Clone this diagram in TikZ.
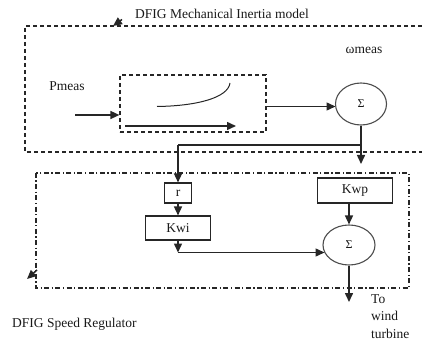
\documentclass[tikz,border=0pt]{standalone}
\usepackage{fontspec}
\setmainfont{Liberation Serif}
\usetikzlibrary{arrows.meta,shapes.geometric}
\begin{document}
\begin{tikzpicture}[x=1pt,y=-1pt,
  every node/.style={font=\fontsize{13.5}{17.5}\selectfont,text=black!90},
  wire/.style={line width=1.5pt,black!85},
  arr/.style={wire,-{Triangle[length=9pt,width=8pt]}},
  blk/.style={draw=black!85,line width=1.1pt,rectangle,inner sep=0pt},
  sumnode/.style={draw=black!70,line width=1.1pt,ellipse,inner sep=0pt,
    font=\fontsize{12}{14}\selectfont},
  dashbox/.style={draw=black!85,line width=1.2pt,dash pattern=on 4pt off 3pt},
  ddbox/.style={draw=black!85,line width=1.1pt,
    dash pattern=on 5pt off 2.5pt on 1.2pt off 2.5pt}]
\useasboundingbox (0,0) rectangle (422,344);

% mechanical inertia model (open on the right)
\draw[dashbox] (422,26) -- (25,26) -- (25,152) -- (422,152);
\node (title1) at (222,14) {DFIG Mechanical Inertia model};
\coordinate (m1tail) at (122,19.5);
\coordinate (m1tip) at (113,26);
\draw[arr] (m1tail) -- (m1tip);

\node (omega) at (364,50) {ωmeas};
\node (pmeas) at (67,86) {Pmeas};

% transfer-function block
\node[dashbox,minimum width=146pt,minimum height=57pt] (tf) at (193,103.5) {};
\coordinate (c1) at (157,106.5);
\coordinate (c2) at (230,83);
\draw[line width=1pt,black!85] (c1) .. controls (196,106) and (228,98) .. (c2);
\coordinate (a1) at (125,126);
\coordinate (a2) at (236,126);
\draw[arr] (a1) -- (a2);

\coordinate (pin) at (75,115);
\draw[arr] (pin) -- (pin -| tf.west);

\node[sumnode,minimum width=51pt,minimum height=42pt] (sum1) at (361,104) {Σ};
\coordinate (t1) at (266,106.5);
\draw[arr] (t1) -- (335.5,106.5);

% branch to the speed regulator
\coordinate (split) at (361,145);
\coordinate (down1) at (361,164);
\coordinate (lturn) at (178,145);
\draw[wire] (sum1.south) -- (split);
\draw[arr] (split) -- (down1);
\draw[wire] (split) -- (lturn);

% speed regulator
\draw[ddbox] (36,173) rectangle (409,288);
\coordinate (m2tail) at (37,270);
\coordinate (m2tip) at (27,279);
\draw[arr] (m2tail) -- (m2tip);

\node[blk,minimum width=27pt,minimum height=20pt] (rbox) at (178,193) {r};
\node[blk,minimum width=65pt,minimum height=24pt] (kwi) at (178,228) {Kwi};
\node[blk,minimum width=75pt,minimum height=25pt] (kwp) at (355,190.5) {Kwp};
\node[sumnode,minimum width=52pt,minimum height=40pt] (sum2) at (349,245) {Σ};

\draw[arr] (lturn) -- (rbox.north);
\draw[arr] (rbox) -- (kwi);
\coordinate (kturn) at (178,252.5);
\draw[arr] (kwi.south) -- (kturn);
\draw[arr] (kturn) -- (324.5,252.5);
\draw[arr] (sum2.north |- kwp.south) -- (sum2.north);
\coordinate (out) at (349,302);
\draw[arr] (sum2.south) -- (out);

\node[anchor=north west,align=left,inner sep=0pt] (towind) at (371,294) {To\\wind\\turbine};
\node[anchor=west,inner sep=0pt] (title2) at (12,324) {DFIG Speed Regulator};
\end{tikzpicture}
\end{document}
